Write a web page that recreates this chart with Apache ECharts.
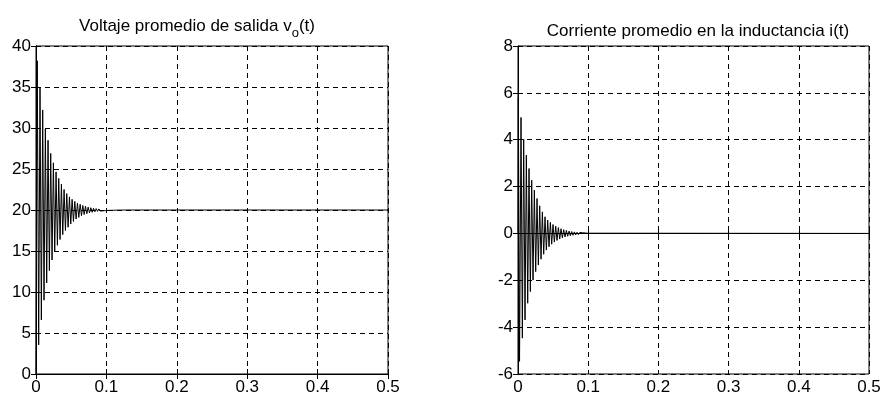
<!DOCTYPE html>
<html>
<head>
<meta charset="utf-8">
<script src="https://cdn.jsdelivr.net/npm/echarts@6/dist/echarts.min.js"></script>
<style>html,body{margin:0;padding:0;background:#fff}#c{width:885px;height:401px}</style>
</head>
<body>
<div id="c"></div>
<script>
// ---- data ----
const xTicks = [0, 0.1, 0.2, 0.3, 0.4, 0.5];
const vTicks = [0, 5, 10, 15, 20, 25, 30, 35, 40];
const iTicks = [-6, -4, -2, 0, 2, 4, 6, 8];

// output voltage: extremes (alternating peak / trough), then steady value
const vTime = [0, 0.0018, 0.0038, 0.0057, 0.0076, 0.0095, 0.0114, 0.0133, 0.0152, 0.0171, 0.0190,
  0.0209, 0.0228, 0.0247, 0.0266, 0.0285, 0.0304, 0.0323, 0.0342, 0.0361, 0.0380,
  0.0399, 0.0418, 0.0437, 0.0456, 0.0475, 0.0494, 0.0513, 0.0532, 0.0551, 0.0570,
  0.0589, 0.0608, 0.0627, 0.0646, 0.0665, 0.0684, 0.0703, 0.0722, 0.0741, 0.0760,
  0.0779, 0.0798, 0.0817, 0.0836, 0.0855, 0.0874, 0.0893, 0.0912, 0.0931, 0.0950,
  0.0969, 0.0988, 0.1007, 0.1026, 0.1045, 0.1064, 0.1083, 0.1102, 0.1121, 0.1140,
  0.1159, 0.1178, 0.1197, 0.1216, 0.1235, 0.1254, 0.5];
const vValue = [0, 38.2, 3.55, 35.0, 6.6, 32.2, 9.0, 29.9, 11.1, 28.5, 12.6,
  26.9, 13.9, 25.75, 14.9, 24.65, 15.7, 23.85, 16.4, 23.15, 17.0,
  22.5, 17.5, 22.0, 17.9, 21.6, 18.3, 21.3, 18.6, 21.05, 18.9,
  20.85, 19.1, 20.7, 19.3, 20.55, 19.45, 20.45, 19.55, 20.35, 19.65,
  20.28, 19.72, 20.22, 19.78, 20.17, 19.83, 20.13, 19.87, 20.1, 19.9,
  20.08, 19.93, 20.06, 19.95, 20.05, 19.96, 20.04, 19.97, 20.03, 19.98,
  20.02, 19.985, 20.015, 19.99, 20.01, 20.0, 20.0];

// inductor current: extremes (alternating peak / trough), then steady value
const iTime = [0, 0.0005, 0.0022, 0.0043, 0.0062, 0.0081, 0.0100, 0.0119, 0.0138, 0.0157, 0.0176,
  0.0195, 0.0214, 0.0233, 0.0252, 0.0271, 0.0290, 0.0309, 0.0328, 0.0347, 0.0366,
  0.0385, 0.0404, 0.0423, 0.0442, 0.0461, 0.0480, 0.0499, 0.0518, 0.0537, 0.0556,
  0.0575, 0.0594, 0.0613, 0.0632, 0.0651, 0.0670, 0.0689, 0.0708, 0.0727, 0.0746,
  0.0765, 0.0784, 0.0803, 0.0822, 0.0841, 0.0860, 0.0879, 0.0898, 0.0917, 0.0936,
  0.0955, 0.0974, 0.0993, 0.1012, 0.5];
const iValue = [0, 5.8, -5.46, 4.95, -4.47, 4.02, -3.69, 3.34, -2.98, 2.77, -2.48,
  2.27, -1.99, 1.85, -1.63, 1.49, -1.35, 1.18, -1.1, 0.92, -0.89,
  0.71, -0.71, 0.57, -0.57, 0.47, -0.46, 0.38, -0.37, 0.31, -0.30,
  0.25, -0.24, 0.20, -0.19, 0.16, -0.15, 0.13, -0.12, 0.10, -0.10,
  0.08, -0.08, 0.065, -0.065, 0.05, -0.05, 0.04, -0.04, 0.03, -0.03,
  0.02, -0.02, 0.01, -0.01, 0];

const titleLeft = 'Voltaje promedio de salida v';
const titleLeftSub = 'o';
const titleLeftEnd = '(t)';
const titleRight = 'Corriente promedio en la inductancia i(t)';

// ---- chart ----
const FONT = 'Arial, "Liberation Sans", Helvetica, sans-serif';
const FS = 17;
const chart = echarts.init(document.getElementById('c'), null, {renderer: 'canvas'});
const grids = [
  {left: 36, top: 46, width: 352, height: 328, show: true, borderColor: '#000', borderWidth: 1, backgroundColor: '#fff'},
  {left: 518, top: 46, width: 351, height: 328, show: true, borderColor: '#000', borderWidth: 1, backgroundColor: '#fff'}
];
const splitStyle = {show: true, lineStyle: {color: '#000', width: 1, type: [5, 4]}};
function xAx(g) {
  return [{
    type: 'value', gridIndex: g, min: xTicks[0], max: xTicks[xTicks.length - 1], interval: 0.1,
    axisLine: {show: true, lineStyle: {color: '#000', width: 1}},
    axisTick: {show: true, inside: true, length: 5, lineStyle: {color: '#000'}},
    axisLabel: {color: '#000', fontFamily: FONT, fontSize: FS, margin: 5,
      formatter: v => String(+v.toFixed(1))},
    splitLine: splitStyle
  }, {
    type: 'value', gridIndex: g, position: 'top', min: xTicks[0], max: xTicks[xTicks.length - 1], interval: 0.1,
    axisLine: {show: true, lineStyle: {color: '#000'}},
    axisTick: {show: true, inside: true, length: 5, lineStyle: {color: '#000'}},
    axisLabel: {show: false}, splitLine: {show: false}
  }];
}
function yAx(g, ticks) {
  const mn = ticks[0], mx = ticks[ticks.length - 1], iv = ticks[1] - ticks[0];
  return [{
    type: 'value', gridIndex: g, min: mn, max: mx, interval: iv,
    axisLine: {show: true, lineStyle: {color: '#000', width: 1}},
    axisTick: {show: true, inside: true, length: 5, lineStyle: {color: '#000'}},
    axisLabel: {color: '#000', fontFamily: FONT, fontSize: FS, margin: 5},
    splitLine: splitStyle
  }, {
    type: 'value', gridIndex: g, position: 'right', min: mn, max: mx, interval: iv,
    axisLine: {show: true, lineStyle: {color: '#000'}},
    axisTick: {show: true, inside: true, length: 5, lineStyle: {color: '#000'}},
    axisLabel: {show: false}, splitLine: {show: false}
  }];
}
const lineSeries = (xi, yi, t, v) => ({
  type: 'line', xAxisIndex: xi, yAxisIndex: yi,
  data: t.map((x, k) => [x, v[k]]),
  showSymbol: false, symbol: 'none', sampling: null, animation: false,
  lineStyle: {color: '#000', width: 1}, z: 3
});

chart.setOption({
  animation: false,
  backgroundColor: '#fff',
  title: [
    {text: '{a|' + titleLeft + '}{s|' + titleLeftSub + '}{a|' + titleLeftEnd + '}',
      left: 192, top: 10, textAlign: 'center',
      textStyle: {fontWeight: 'normal', rich: {
        a: {fontFamily: FONT, fontSize: FS, fontWeight: 'normal', color: '#000', lineHeight: 20, verticalAlign: 'bottom'},
        s: {fontFamily: FONT, fontSize: 13, fontWeight: 'normal', color: '#000', lineHeight: 13, verticalAlign: 'bottom', padding: [0, 0, -5, 0]}
      }}},
    {text: titleRight, left: 693, top: 18, textAlign: 'center',
      textStyle: {fontFamily: FONT, fontSize: FS, fontWeight: 'normal', color: '#000'}}
  ],
  grid: grids,
  xAxis: [...xAx(0), ...xAx(1)],
  yAxis: [...yAx(0, vTicks), ...yAx(1, iTicks)],
  series: [
    lineSeries(0, 0, vTime, vValue),
    lineSeries(2, 2, iTime, iValue)
  ]
});
</script>
</body>
</html>
